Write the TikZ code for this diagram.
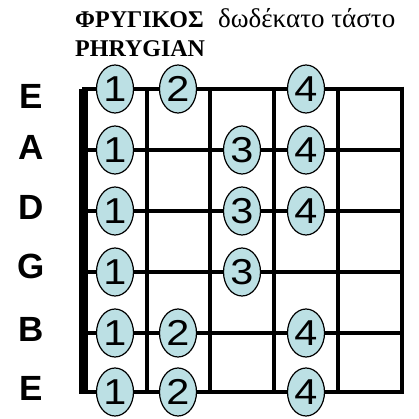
\documentclass[tikz,border=0pt]{standalone}
\usepackage{fontspec}
\setmainfont{Liberation Serif}
\setsansfont{Liberation Sans}
\newfontfamily\widesans[FakeStretch=1.15]{Liberation Sans}
\usetikzlibrary{shapes,positioning}
\definecolor{dotblue}{RGB}{188,224,228}

\begin{document}
\begin{tikzpicture}[x=1pt, y=-1pt]
  \tikzstyle{finger}=[ellipse, draw=black, line width=1.2pt, fill=dotblue, minimum width=37pt, minimum height=48pt, inner sep=0pt, font=\widesans\fontsize{36}{36}\selectfont]
  \tikzstyle{strname}=[font=\sffamily\bfseries\fontsize{35}{35}\selectfont, inner sep=0pt]
  \tikzstyle{fret}=[line width=4.5pt]
  \tikzstyle{heading}=[anchor=base west, inner sep=0pt, font=\bfseries\fontsize{24}{24}\selectfont]

  \useasboundingbox (0,0) rectangle (418,419);

  % title
  \node[heading] (title) at (75,28) {ΦΡΥΓΙΚΟΣ};
  \node[heading, font=\fontsize{27}{27}\selectfont] (fret12) at (218,28) {δωδέκατο τάστο};
  \node[heading] (subtitle) at (75,57) {PHRYGIAN};

  % string names
  \node[strname] (nE) at (31,96) {E};
  \node[strname] (nA) at (31,147) {A};
  \node[strname] (nD) at (31,207) {D};
  \node[strname] (nG) at (31,266) {G};
  \node[strname] (nB) at (31,329) {B};
  \node[strname] (ne) at (31,388) {E};

  % strings
  \draw[fret] (82,89) -- (402,89);
  \draw[fret] (82,150) -- (402,150);
  \draw[fret] (82,211) -- (402,211);
  \draw[fret] (82,272) -- (402,272);
  \draw[fret] (82,333) -- (402,333);
  \draw[fret] (82,392) -- (402,392);
  % frets
  \draw[fret] (147,89) -- (147,392);
  \draw[fret] (210,89) -- (210,392);
  \draw[fret] (274,89) -- (274,392);
  \draw[fret] (338,89) -- (338,392);
  \draw[fret] (402,86.75) -- (402,394.25);
  % nut
  \draw[line width=9pt] (83.5,89) -- (83.5,394.25);

  % fingers
  \node[finger] (E1) at (115,89) {1};
  \node[finger] (E2) at (178,89) {2};
  \node[finger] (E4) at (306,89) {4};
  \node[finger] (A1) at (115,150) {1};
  \node[finger] (A3) at (242,150) {3};
  \node[finger] (A4) at (306,150) {4};
  \node[finger] (D1) at (115,211) {1};
  \node[finger] (D3) at (242,211) {3};
  \node[finger] (D4) at (306,211) {4};
  \node[finger] (G1) at (115,272) {1};
  \node[finger] (G3) at (242,272) {3};
  \node[finger] (B1) at (115,333) {1};
  \node[finger] (B2) at (178,333) {2};
  \node[finger] (B4) at (306,333) {4};
  \node[finger] (e1) at (115,392) {1};
  \node[finger] (e2) at (178,392) {2};
  \node[finger] (e4) at (306,392) {4};
\end{tikzpicture}
\end{document}
